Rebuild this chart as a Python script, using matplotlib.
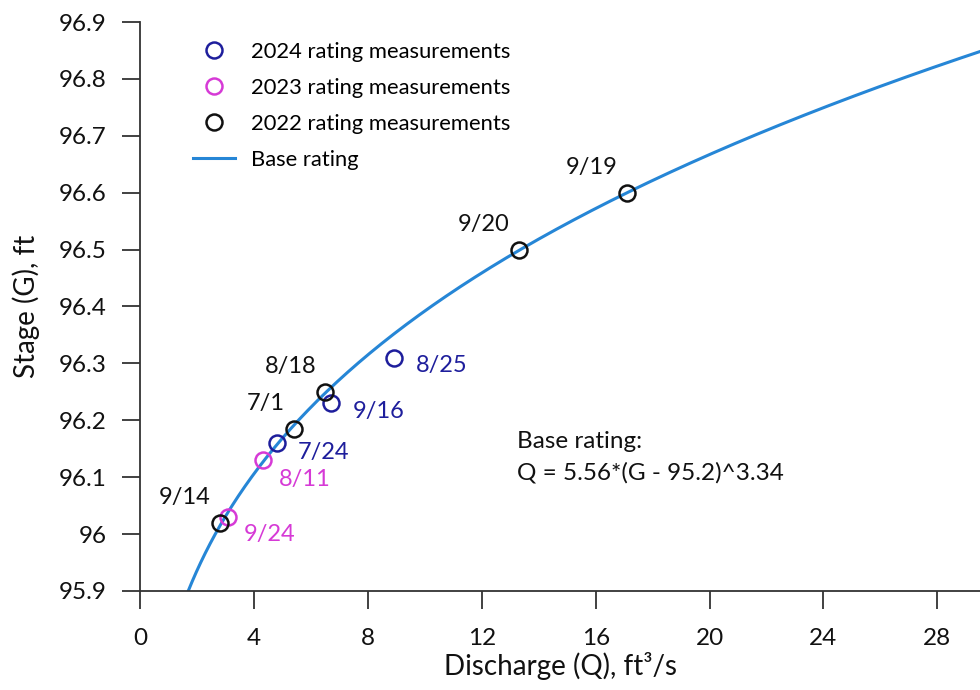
import numpy as np
import matplotlib
matplotlib.use('Agg')
from matplotlib import pyplot as plt

plt.rcParams['font.family'] = ['Lato', 'DejaVu Sans']

# rating measurements: discharge (ft3/s), stage (ft), date
q_2024 = [8.9, 6.7, 4.8]
g_2024 = [96.31, 96.23, 96.16]
d_2024 = ['8/25', '9/16', '7/24']

q_2023 = [4.3, 3.1]
g_2023 = [96.13, 96.03]
d_2023 = ['8/11', '9/24']

q_2022 = [17.1, 13.3, 6.5, 5.4, 2.8]
g_2022 = [96.6, 96.5, 96.25, 96.185, 96.02]
d_2022 = ['9/19', '9/20', '8/18', '7/1', '9/14']

# base rating Q = C*(G - e)^b
rating_c = 5.56
rating_e = 95.2
rating_b = 3.34

x_ticks = [0, 4, 8, 12, 16, 20, 24, 28]
y_ticks = [95.9, 96.0, 96.1, 96.2, 96.3, 96.4, 96.5, 96.6, 96.7, 96.8, 96.9]
y_tick_labels = ['95.9', '96', '96.1', '96.2', '96.3', '96.4', '96.5', '96.6', '96.7', '96.8', '96.9']

c_2024 = '#1e1e9c'
c_2023 = '#d63ad6'
c_2022 = '#111111'
c_base = '#2686d6'

fig = plt.figure(figsize=(9.8, 6.9), dpi=100)
ax = fig.add_axes([0.143, 0.1435, 0.857, 0.8246])

g_curve = np.linspace(95.9, 96.9, 300)
q_curve = rating_c * (g_curve - rating_e) ** rating_b
ax.plot(q_curve, g_curve, color=c_base, lw=2.2, zorder=2, label='Base rating')

mk = dict(marker='o', ms=11.5, mfc='none', mew=1.8, ls='none', zorder=3)
ax.plot(q_2024, g_2024, mec=c_2024, label='2024 rating measurements', **mk)
ax.plot(q_2023, g_2023, mec=c_2023, label='2023 rating measurements', **mk)
ax.plot(q_2022, g_2022, mec=c_2022, label='2022 rating measurements', **mk)

# date labels, offsets in pixels
off_2024 = [(22, -8), (22, -8), (21, -9)]
off_2023 = [(16, -19), (15, -17)]
for q, g, d, o in zip(q_2024, g_2024, d_2024, off_2024):
    ax.annotate(d, (q, g), xytext=o, textcoords='offset pixels',
                ha='left', va='center', fontsize=17, color=c_2024)
for q, g, d, o in zip(q_2023, g_2023, d_2023, off_2023):
    ax.annotate(d, (q, g), xytext=o, textcoords='offset pixels',
                ha='left', va='center', fontsize=17, color=c_2023)
for q, g, d in zip(q_2022, g_2022, d_2022):
    ax.annotate(d, (q, g), xytext=(-9, 25), textcoords='offset pixels',
                ha='right', va='center', fontsize=17, color=c_2022)

ax.text(13.25, 96.135, 'Base rating:\nQ = %.2f*(G - %.1f)^%.2f' % (rating_c, rating_e, rating_b),
        fontsize=17.5, color='#111111', va='center', ha='left', linespacing=1.55)

h, l = ax.get_legend_handles_labels()
order = [1, 2, 3, 0]
ax.legend([h[i] for i in order], [l[i] for i in order], loc='upper left',
          bbox_to_anchor=(0.039, 1.0), frameon=False, fontsize=15.8,
          handlelength=1.95, labelspacing=0.73, handletextpad=0.7)

ax.set_xlim(0, 29.5)
ax.set_ylim(95.9, 96.9)
ax.set_xticks(x_ticks)
ax.set_yticks(y_ticks)
ax.set_yticklabels(y_tick_labels)
ax.tick_params(axis='both', direction='out', length=13, width=1.3, color='#333333',
               labelsize=17.5, labelcolor='#111111')
ax.tick_params(axis='x', pad=14)
ax.tick_params(axis='y', pad=11)
for s in ['top', 'right']:
    ax.spines[s].set_visible(False)
for s in ['left', 'bottom']:
    ax.spines[s].set_color('#333333')
    ax.spines[s].set_linewidth(1.3)

ax.set_xlabel('Discharge (Q), ft\u00b3/s', fontsize=20, labelpad=2, color='#111111')
ax.set_ylabel('Stage (G), ft', fontsize=20, labelpad=13.5, color='#111111')

fig.savefig('out.png', dpi=100)
